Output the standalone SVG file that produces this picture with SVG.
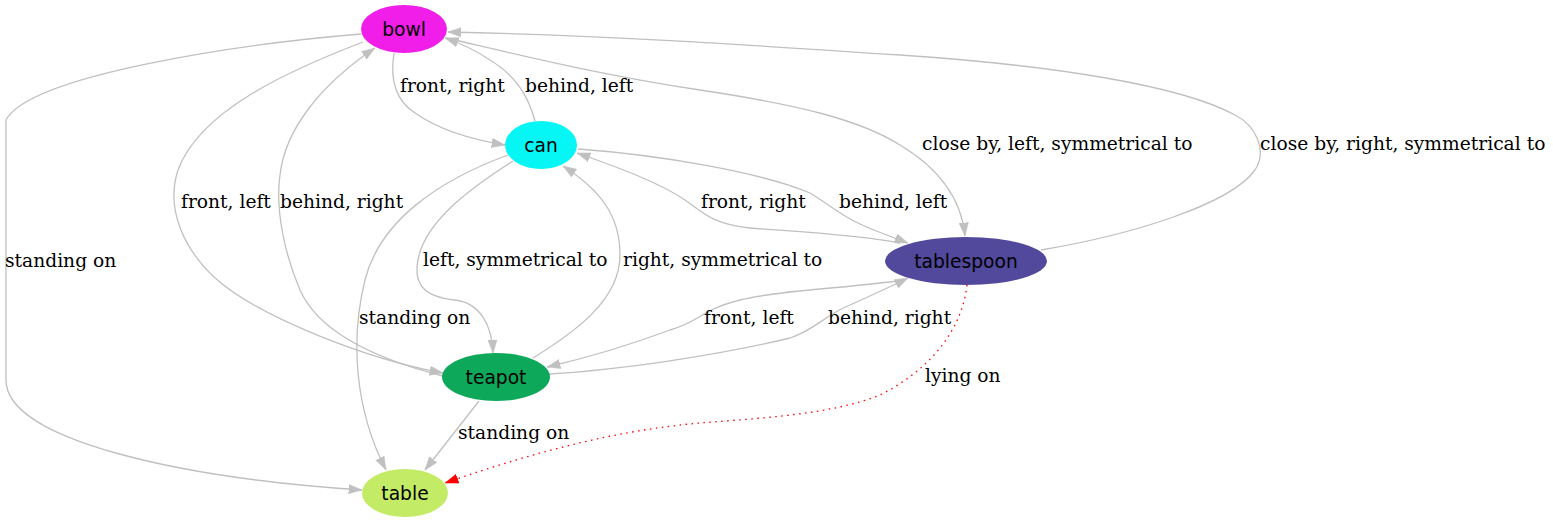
<svg xmlns="http://www.w3.org/2000/svg" width="1553" height="523" viewBox="0 0 1553 523">
<style>
.e{fill:none;stroke:#c0c0c0;stroke-width:1.3}
.ea{marker-end:url(#ag)}
.r{fill:none;stroke:#ff0000;stroke-width:1.3;stroke-dasharray:1.5,4.5;marker-end:url(#ar)}
.l{font-family:"DejaVu Serif",serif;font-size:18.67px;fill:#000}
.n{font-family:"DejaVu Sans",sans-serif;font-size:18.67px;fill:#000;text-anchor:middle}
</style>
<defs>
<marker id="ag" markerUnits="userSpaceOnUse" viewBox="0 0 14 10" refX="13.3" refY="5" markerWidth="14" markerHeight="10" orient="auto"><path d="M0,0.3 L13.3,5 L0,9.7 z" fill="#c0c0c0" stroke="#c0c0c0" stroke-width="0.5"/></marker>
<marker id="ar" markerUnits="userSpaceOnUse" viewBox="0 0 14 10" refX="13.3" refY="5" markerWidth="14" markerHeight="10" orient="auto"><path d="M0,0.3 L13.3,5 L0,9.7 z" fill="#ff0000" stroke="#ff0000" stroke-width="0.5"/></marker>
</defs>
<rect width="1553" height="523" fill="#fff"/>
<g id="edges">
<path class="e ea" d="M394,53 C390,78 395,100 415,113 C435,127 462,138 505,145"/>
<path class="e ea" d="M535,121 C528,95 515,75 490,60 C475,50 460,43 445,38"/>
<path class="e ea" d="M446,38 C520,55 600,75 700,90 C800,105 860,120 900,145 C945,172 962,205 965,236"/>
<path class="e ea" d="M1041,250 C1130,235 1230,205 1255,170 C1268,150 1255,125 1235,115 C1180,85 1050,65 900,55 C750,45 600,35 448,32"/>
<path class="e ea" d="M363,42 C290,70 200,110 178,170 C165,210 185,250 215,278 C260,318 370,360 443,373"/>
<path class="e ea" d="M443,376 C380,360 320,335 300,290 C285,255 275,210 280,175 C285,130 320,85 375,48"/>
<path class="e ea" d="M361,34 C240,44 30,75 6,120 L6,380 C6,440 180,478 362,490"/>
<path class="e ea" d="M900,243 C860,235 800,232 750,228 C710,224 700,210 685,200 C660,183 620,168 577,153"/>
<path class="e ea" d="M578,149 C660,155 760,172 810,193 C830,205 840,215 860,224 C875,231 892,237 908,243"/>
<path class="e ea" d="M513,161 C475,185 425,220 418,260 C413,285 425,297 455,300 C480,303 492,325 493,353"/>
<path class="e ea" d="M533,358 C575,332 620,300 620,255 C620,215 600,190 563,166"/>
<path class="e ea" d="M508,155 C440,180 380,220 365,280 C350,340 355,410 386,470"/>
<path class="e ea" d="M479,401 L425,470"/>
<path class="e ea" d="M905,280 C850,288 780,290 740,300 C700,310 700,322 670,330 C630,345 590,357 547,367"/>
<path class="e ea" d="M549,374 C620,370 720,355 790,338 C815,330 825,315 850,305 C870,296 890,287 908,278"/>
<path class="r" d="M967,285 C962,330 930,370 880,395 C830,415 760,418 700,423 C620,430 540,450 445,483"/>
</g>
<g id="edge-labels">
<text class="l" x="400" y="92">front, right</text>
<text class="l" x="525" y="92">behind, left</text>
<text class="l" x="922" y="150">close by, left, symmetrical to</text>
<text class="l" x="1260" y="150">close by, right, symmetrical to</text>
<text class="l" x="181" y="208">front, left</text>
<text class="l" x="280" y="208">behind, right</text>
<text class="l" x="5" y="267">standing on</text>
<text class="l" x="701" y="208">front, right</text>
<text class="l" x="839" y="208">behind, left</text>
<text class="l" x="423" y="266">left, symmetrical to</text>
<text class="l" x="623" y="266">right, symmetrical to</text>
<text class="l" x="359" y="324">standing on</text>
<text class="l" x="704" y="324">front, left</text>
<text class="l" x="828" y="324">behind, right</text>
<text class="l" x="925" y="382">lying on</text>
<text class="l" x="458" y="439">standing on</text>
</g>
<g id="bowl"><ellipse cx="404" cy="29" rx="43" ry="24" fill="#f01ee8"/><text class="n" x="404" y="35.5">bowl</text></g>
<g id="can"><ellipse cx="541" cy="145" rx="36" ry="24" fill="#06f6f6"/><text class="n" x="541" y="151.5">can</text></g>
<g id="tablespoon"><ellipse cx="966" cy="261" rx="81" ry="24" fill="#52489c"/><text class="n" x="966" y="267.5">tablespoon</text></g>
<g id="teapot"><ellipse cx="496" cy="377" rx="54" ry="24" fill="#0ea85a"/><text class="n" x="496" y="383.5">teapot</text></g>
<g id="table"><ellipse cx="405" cy="493" rx="43" ry="24" fill="#c4eb66"/><text class="n" x="405" y="499.5">table</text></g>
</svg>
